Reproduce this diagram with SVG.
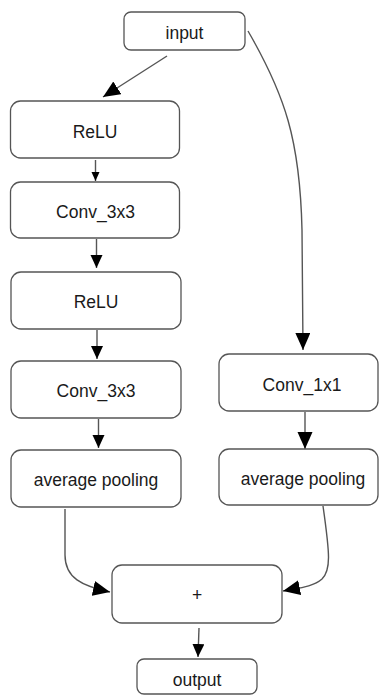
<svg xmlns="http://www.w3.org/2000/svg" width="379" height="695" viewBox="0 0 379 695">
  <defs>
    <style>
      .box { fill: #ffffff; stroke: #555555; stroke-width: 1.3; }
      .lbl { font-family: "Liberation Sans", Arial, Helvetica, sans-serif; font-size: 17.5px; fill: #1a1a1a; text-anchor: middle; }
      .edge { fill: none; stroke: #555555; stroke-width: 1.4; }
    </style>
    <marker id="head" markerUnits="userSpaceOnUse" markerWidth="14" markerHeight="13" refX="13" refY="6" orient="auto">
      <path d="M0,0 L13,6 L0,12 z" fill="#000000"/>
    </marker>
    <marker id="big" markerUnits="userSpaceOnUse" markerWidth="18" markerHeight="16" refX="17" refY="7.5" orient="auto">
      <path d="M0,0 L17,7.5 L0,15 z" fill="#000000"/>
    </marker>
    <marker id="small" markerUnits="userSpaceOnUse" markerWidth="10" markerHeight="9" refX="9" refY="4" orient="auto">
      <path d="M0,0 L9,4 L0,8 z" fill="#000000"/>
    </marker>
  </defs>
  <rect width="379" height="695" fill="#ffffff"/>

  <!-- connectors -->
  <g id="edges">
    <path class="edge" d="M167,56 L103,97" marker-end="url(#big)"/>
    <path class="edge" d="M95.5,160 L95.5,181" marker-end="url(#small)"/>
    <path class="edge" d="M96.5,239 L96.5,268" marker-end="url(#head)"/>
    <path class="edge" d="M97,330 L97,359" marker-end="url(#head)"/>
    <path class="edge" d="M98.5,419 L98.5,448" marker-end="url(#head)"/>
    <path class="edge" d="M248,31 C285,95 300,140 302,230 L303,350" marker-end="url(#big)"/>
    <path class="edge" d="M305,412 L305,449" marker-end="url(#big)"/>
    <path class="edge" d="M65,509 L65,555 C65,578 82,586 110,592" marker-end="url(#big)"/>
    <path class="edge" d="M323,506 C330,555 331,570 322,579 C313,587 298,588 283,591" marker-end="url(#big)"/>
    <path class="edge" d="M199,628 L198,657" marker-end="url(#head)"/>
  </g>

  <g id="input">
    <rect class="box" x="124" y="12" width="121" height="38" rx="7"/>
    <text class="lbl" x="184.5" y="39">input</text>
  </g>
  <g id="relu1">
    <rect class="box" x="10.5" y="101" width="169" height="57" rx="10"/>
    <text class="lbl" x="95" y="137.5">ReLU</text>
  </g>
  <g id="conv1">
    <rect class="box" x="10.5" y="182" width="169" height="56" rx="10"/>
    <text class="lbl" x="95.5" y="218">Conv_3x3</text>
  </g>
  <g id="relu2">
    <rect class="box" x="11" y="272" width="170" height="57" rx="10"/>
    <text class="lbl" x="96" y="308">ReLU</text>
  </g>
  <g id="conv2">
    <rect class="box" x="11" y="361" width="170" height="57" rx="10"/>
    <text class="lbl" x="96" y="397">Conv_3x3</text>
  </g>
  <g id="pool-left">
    <rect class="box" x="11" y="450" width="170" height="57" rx="10"/>
    <text class="lbl" x="96" y="485.5">average pooling</text>
  </g>
  <g id="conv1x1">
    <rect class="box" x="219" y="354" width="159" height="57" rx="10"/>
    <text class="lbl" x="302" y="391">Conv_1x1</text>
  </g>
  <g id="pool-right">
    <rect class="box" x="219" y="449" width="159" height="56" rx="10"/>
    <text class="lbl" x="303" y="485">average pooling</text>
  </g>
  <g id="add">
    <rect class="box" x="112" y="565" width="170" height="58" rx="10"/>
    <text class="lbl" x="197" y="601">+</text>
  </g>
  <g id="output">
    <rect class="box" x="137" y="659" width="120" height="35" rx="7"/>
    <text class="lbl" x="197" y="686">output</text>
  </g>
</svg>
